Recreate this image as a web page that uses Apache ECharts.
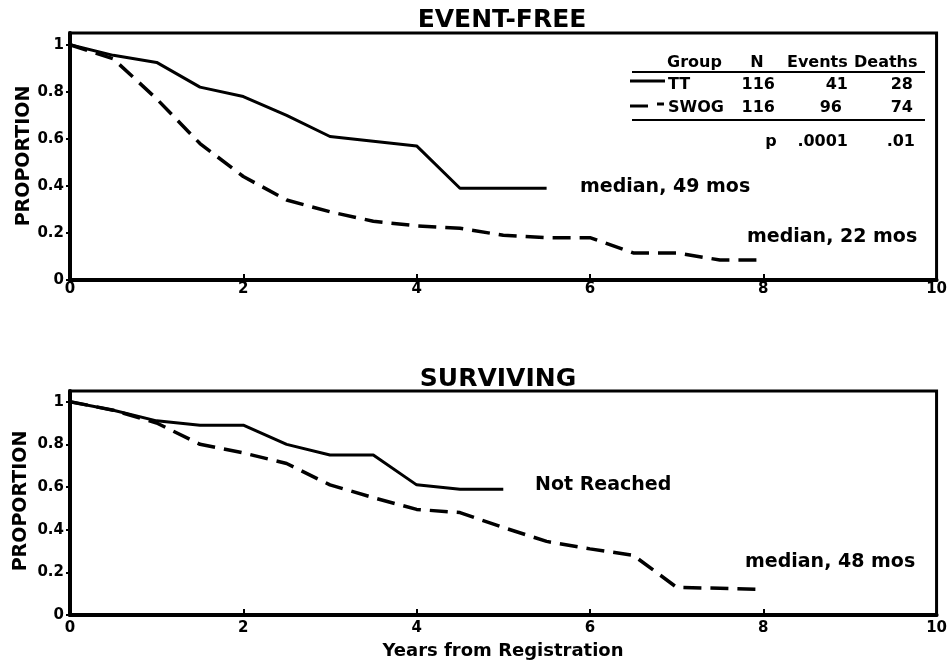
<!DOCTYPE html>
<html>
<head>
<meta charset="utf-8">
<script src="https://cdn.jsdelivr.net/npm/echarts@6/dist/echarts.min.js"></script>
<style>html,body{margin:0;padding:0;background:#fff}#c{width:950px;height:668px}</style>
</head>
<body>
<div id="c"></div>
<script>
// ---- data ----
var efTTYears   = [0, 0.5, 1, 1.5, 2, 2.5, 3, 3.5, 4, 4.5, 5.5];
var efTTValues  = [1, 0.955, 0.925, 0.82, 0.78, 0.70, 0.61, 0.59, 0.57, 0.39, 0.39];
var efSWOGYears = [0, 0.5, 1, 1.5, 2, 2.5, 3, 3.5, 4, 4.5, 5, 5.5, 6, 6.5, 7, 7.5, 8];
var efSWOGValues= [1, 0.94, 0.77, 0.58, 0.44, 0.34, 0.29, 0.25, 0.23, 0.22, 0.19, 0.18, 0.18, 0.115, 0.115, 0.085, 0.085];
var svTTYears   = [0, 0.5, 1, 1.5, 2, 2.5, 3, 3.5, 4, 4.5, 5];
var svTTValues  = [1, 0.96, 0.91, 0.89, 0.89, 0.80, 0.75, 0.75, 0.61, 0.59, 0.59];
var svSWOGYears = [0, 0.5, 1, 1.5, 2, 2.5, 3, 3.5, 4, 4.5, 5, 5.5, 6, 6.5, 7, 7.5, 8];
var svSWOGValues= [1, 0.96, 0.90, 0.80, 0.76, 0.71, 0.61, 0.55, 0.495, 0.48, 0.41, 0.345, 0.31, 0.28, 0.13, 0.125, 0.12];
var panelTitles = ['EVENT-FREE', 'SURVIVING'];
var yAxisTitle = 'PROPORTION';
var xAxisTitle = 'Years from Registration';
var tableHeader = ['Group', 'N', 'Events', 'Deaths'];
var tableRowTT = ['TT', '116', '41', '28'];
var tableRowSWOG = ['SWOG', '116', '96', '74'];
var tableP = ['p', '.0001', '.01'];
var notes = ['median, 49 mos', 'median, 22 mos', 'Not Reached', 'median, 48 mos'];

function pairs(xs, ys) { return xs.map(function (x, i) { return [x, ys[i]]; }); }

var FF = '"DejaVu Sans", sans-serif';
function F(sz) { return 'bold ' + sz + 'px ' + FF; }

function xAx(idx, margin) {
  return {
    type: 'value', gridIndex: idx, min: 0, max: 10, interval: 2,
    axisLine: { show: true, onZero: false, lineStyle: { color: '#000', width: 4 } },
    axisTick: { show: true, inside: true, length: 6, lineStyle: { color: '#000', width: 2 } },
    axisLabel: { color: '#000', fontFamily: FF, fontWeight: 'bold', fontSize: 15, margin: margin },
    splitLine: { show: false }
  };
}
function yAx(idx) {
  return {
    type: 'value', gridIndex: idx, min: 0, max: 1.05, interval: 0.2,
    axisLine: { show: true, onZero: false, lineStyle: { color: '#000', width: 4 } },
    axisTick: { show: true, inside: false, length: 4, lineStyle: { color: '#000', width: 2 } },
    axisLabel: { color: '#000', fontFamily: FF, fontWeight: 'bold', fontSize: 15, margin: 6, showMaxLabel: false },
    splitLine: { show: false }
  };
}
function lineSeries(idx, data, dashed) {
  return {
    type: 'line', xAxisIndex: idx, yAxisIndex: idx, data: data,
    showSymbol: false, symbol: 'none', animation: false,
    lineStyle: { color: '#000', width: dashed ? 3.5 : 3, type: dashed ? [18, 9] : 'solid' }
  };
}
function txt(s, x, y, sz, align) {
  return { type: 'text', x: x, y: y, silent: true,
    style: { text: s, font: F(sz), fill: '#000', align: align || 'left', verticalAlign: 'middle' } };
}
function ln(x1, y1, x2, y2, w, dash) {
  return { type: 'line', silent: true, shape: { x1: x1, y1: y1, x2: x2, y2: y2 },
    style: { stroke: '#000', lineWidth: w, lineDash: dash || null } };
}

var chart = echarts.init(document.getElementById('c'));
chart.setOption({
  animation: false,
  backgroundColor: '#fff',
  grid: [
    { left: 70, right: 8, top: 33, height: 247, show: true, borderColor: '#000', borderWidth: 3 },
    { left: 70, right: 8, top: 391, height: 224, show: true, borderColor: '#000', borderWidth: 3 }
  ],
  xAxis: [xAx(0, 2), xAx(1, 6)],
  yAxis: [yAx(0), yAx(1)],
  series: [
    lineSeries(0, pairs(efTTYears, efTTValues), false),
    lineSeries(0, pairs(efSWOGYears, efSWOGValues), true),
    lineSeries(1, pairs(svTTYears, svTTValues), false),
    lineSeries(1, pairs(svSWOGYears, svSWOGValues), true)
  ],
  graphic: [
    txt(panelTitles[0], 502, 20, 25, 'center'),
    txt(panelTitles[1], 498, 379, 25, 'center'),
    { type: 'text', x: 24, y: 156, rotation: Math.PI / 2, silent: true,
      style: { text: yAxisTitle, font: F(19), fill: '#000', align: 'center', verticalAlign: 'middle' } },
    { type: 'text', x: 21, y: 501, rotation: Math.PI / 2, silent: true,
      style: { text: yAxisTitle, font: F(19), fill: '#000', align: 'center', verticalAlign: 'middle' } },
    txt(xAxisTitle, 503, 651, 18, 'center'),
    txt(notes[0], 580, 187, 19, 'left'),
    txt(notes[1], 747, 237, 19, 'left'),
    txt(notes[2], 535, 485, 19, 'left'),
    txt(notes[3], 745, 562, 19, 'left'),
    // table
    txt(tableHeader[0], 667, 63, 16, 'left'),
    txt(tableHeader[1], 757, 63, 16, 'center'),
    txt(tableHeader[2], 787, 63, 16, 'left'),
    txt(tableHeader[3], 854, 63, 16, 'left'),
    ln(632, 72, 925, 72, 2),
    txt(tableRowTT[0], 668, 85, 16, 'left'),
    txt(tableRowTT[1], 775, 85, 16, 'right'),
    txt(tableRowTT[2], 848, 85, 16, 'right'),
    txt(tableRowTT[3], 913, 85, 16, 'right'),
    txt(tableRowSWOG[0], 668, 108, 16, 'left'),
    txt(tableRowSWOG[1], 775, 108, 16, 'right'),
    txt(tableRowSWOG[2], 842, 108, 16, 'right'),
    txt(tableRowSWOG[3], 913, 108, 16, 'right'),
    ln(632, 120, 925, 120, 2),
    txt(tableP[0], 771, 142, 16, 'center'),
    txt(tableP[1], 848, 142, 16, 'right'),
    txt(tableP[2], 915, 142, 16, 'right'),
    ln(630, 81, 665, 81, 3),
    ln(630, 106, 648, 106, 3),
    ln(657, 104, 664, 104, 3)
  ]
});
</script>
</body>
</html>
